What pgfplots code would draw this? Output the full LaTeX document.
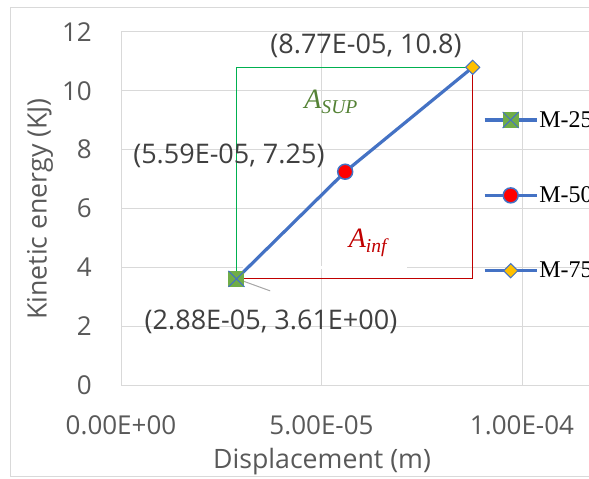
\documentclass[border=0pt]{standalone}
\usepackage{pgfplots}
\pgfplotsset{compat=1.18}
\usepackage{fontspec}
\setmainfont{Open Sans}
\newfontfamily\legfont{Liberation Serif}
\definecolor{mblue}{HTML}{4472C4}
\definecolor{mgreen}{HTML}{70AD47}
\definecolor{mgold}{HTML}{FFC000}
\definecolor{mred}{HTML}{FF0000}
\definecolor{gridc}{HTML}{D9D9D9}
\definecolor{labc}{HTML}{595959}
\definecolor{dlc}{HTML}{404040}
\definecolor{gline}{HTML}{00B050}
\definecolor{rline}{HTML}{C00000}
\definecolor{supc}{HTML}{548235}
\definecolor{infc}{HTML}{C00000}
\definecolor{leadc}{HTML}{A6A6A6}
\pgfdeclareplotmark{sqx}{%
  \pgfpathrectangle{\pgfqpoint{-\pgfplotmarksize}{-\pgfplotmarksize}}{\pgfqpoint{2\pgfplotmarksize}{2\pgfplotmarksize}}%
  \pgfusepathqfill
  \pgfpathmoveto{\pgfqpoint{-\pgfplotmarksize}{-\pgfplotmarksize}}%
  \pgfpathlineto{\pgfqpoint{\pgfplotmarksize}{\pgfplotmarksize}}%
  \pgfpathmoveto{\pgfqpoint{-\pgfplotmarksize}{\pgfplotmarksize}}%
  \pgfpathlineto{\pgfqpoint{\pgfplotmarksize}{-\pgfplotmarksize}}%
  \pgfusepathqstroke}
\begin{document}
\begin{tikzpicture}
\draw[color=gridc, line width=1pt] (10pt,2pt) rectangle (640pt,471pt);
\begin{axis}[
  at={(121pt,94pt)}, anchor=south west, scale only axis,
  width=470pt, height=353pt,
  xmin=0, xmax=1.172e-4, ymin=0, ymax=12,
  xtick={0,5e-5,1e-4}, xticklabels={0.00E+00,5.00E-05,1.00E-04},
  scaled x ticks=false,
  ytick={0,2,4,6,8,10,12},
  grid=major, major grid style={gridc, line width=1pt},
  axis line style={draw=none},
  major tick length=0pt,
  /pgf/number format/assume math mode=true,
  tick label style={font=\fontsize{26}{30}\selectfont, text=labc, inner sep=0pt},
  yticklabel style={anchor=east, xshift=-29pt},
  xticklabel style={anchor=north, yshift=-30pt},
  xlabel={Displacement (m)}, ylabel={Kinetic energy (KJ)},
  label style={font=\fontsize{26.7}{30}\selectfont, text=labc},
  xlabel style={at={(axis description cs:0.4277,-0.218)}, anchor=center},
  ylabel style={at={(axis description cs:-0.1723,0.4986)}, anchor=center},
  clip=false,
  legend image code/.code={\draw[mblue, line width=3.2pt] (0pt,0pt) -- (52pt,0pt); \draw[mark repeat=2,mark phase=2, draw opacity=0] plot coordinates {(0pt,0pt)(26pt,0pt)(52pt,0pt)};},
  legend style={at={(axis description cs:0.770,0.776)}, anchor=north west,
    draw=none, fill=none, inner sep=0pt, row sep=58pt, column sep=1pt,
    nodes={inner sep=0pt}, font=\legfont\fontsize{24}{28}\selectfont},
  legend cell align=left,
]
\draw[white, line width=2.5pt] (axis cs:3.04e-5,4) -- (axis cs:7.13e-5,4);
\addplot[mblue, line width=3.2pt, forget plot] coordinates {(2.88e-5,3.61) (5.59e-5,7.25) (8.77e-5,10.8)};
\addplot[mblue, line width=3.2pt, mark=sqx, mark size=8pt, mark options={fill=mgreen, draw=mblue, line width=1pt, draw opacity=1}] coordinates {(2.88e-5,3.61)};
\addlegendentry{M-25}
\addplot[mblue, line width=3.2pt, mark=*, mark size=7.5pt, mark options={fill=mred, draw=mblue, line width=1.5pt, draw opacity=1}] coordinates {(5.59e-5,7.25)};
\addlegendentry{M-50}
\addplot[mblue, line width=3.2pt, mark=square*, mark size=5pt, mark options={rotate=45, fill=mgold, draw=mblue, line width=1pt, draw opacity=1}] coordinates {(8.77e-5,10.8)};
\addlegendentry{M-75}
\addplot[gline, line width=1.2pt, forget plot] coordinates {(2.88e-5,3.61) (2.88e-5,10.8) (8.77e-5,10.8)};
\addplot[rline, line width=1.2pt, forget plot] coordinates {(2.88e-5,3.61) (8.77e-5,3.61) (8.77e-5,10.8)};
\draw[leadc, line width=1pt] (axis cs:2.97e-5,3.57) -- (axis cs:3.72e-5,3.2);
\node[font=\fontsize{27}{30}\selectfont, text=dlc] at (axis cs:6.11e-5,11.52) {(8.77E-05, 10.8)};
\node[font=\fontsize{27}{30}\selectfont, text=dlc] at (axis cs:2.69e-5,7.78) {(5.59E-05, 7.25)};
\node[font=\fontsize{27}{30}\selectfont, text=dlc] at (axis cs:3.74e-5,2.14) {(2.88E-05, 3.61E+00)};
\node[font=\legfont\itshape\fontsize{28}{32}\selectfont, text=supc] at (axis cs:5.24e-5,9.62) {A\textsubscript{SUP}};
\node[font=\legfont\itshape\fontsize{28}{32}\selectfont, text=infc] at (axis cs:6.16e-5,4.83) {A\textsubscript{inf}};
\end{axis}
\pgfresetboundingbox
\useasboundingbox (0,0) rectangle (589pt,479pt);
\end{tikzpicture}
\end{document}
